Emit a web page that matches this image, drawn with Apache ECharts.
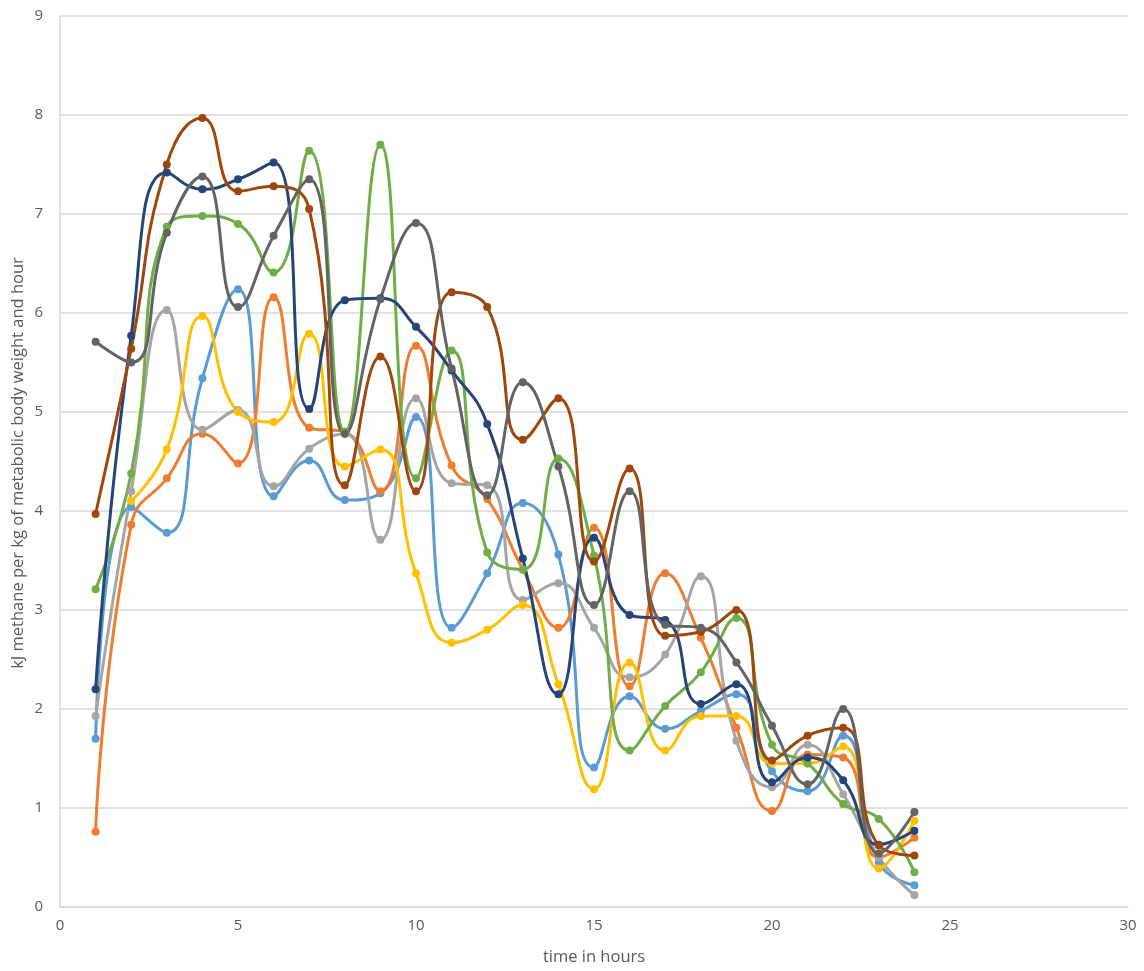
<!DOCTYPE html>
<html>
<head>
<meta charset="utf-8">
<title>Methane emission over time</title>
<script src="https://cdn.jsdelivr.net/npm/echarts@6/dist/echarts.min.js"></script>
<style>
  html, body { margin: 0; padding: 0; background: #ffffff; }
  #chart { width: 1144px; height: 971px; }
</style>
</head>
<body>
<div id="chart"></div>
<script>
// Hours of measurement
const hours = [1,2,3,4,5,6,7,8,9,10,11,12,13,14,15,16,17,18,19,20,21,22,23,24];

// kJ methane per kg metabolic body weight and hour, one array per animal
const lightBlue = [1.70,4.04,3.78,5.34,6.24,4.15,4.51,4.11,4.18,4.95,2.82,3.37,4.08,3.56,1.41,2.13,1.80,1.98,2.15,1.37,1.17,1.73,0.45,0.22];
const orange    = [0.76,3.86,4.33,4.78,4.48,6.16,4.84,4.80,4.20,5.67,4.46,4.12,3.41,2.82,3.83,2.23,3.37,2.72,1.81,0.97,1.54,1.51,0.50,0.70];
const gray      = [1.93,4.20,6.03,4.82,5.02,4.25,4.63,4.78,3.71,5.14,4.28,4.26,3.10,3.27,2.82,2.32,2.55,3.34,1.68,1.21,1.64,1.14,0.50,0.12];
const yellow    = [null,4.10,4.62,5.97,5.00,4.90,5.79,4.45,4.62,3.37,2.67,2.80,3.05,2.25,1.19,2.47,1.58,1.93,1.93,1.45,1.45,1.62,0.39,0.87];
const green     = [3.21,4.38,6.87,6.98,6.90,6.41,7.64,4.80,7.70,4.33,5.62,3.58,3.41,4.53,3.55,1.58,2.03,2.37,2.92,1.64,1.45,1.04,0.89,0.35];
const darkBlue  = [2.20,5.77,7.42,7.25,7.35,7.52,5.03,6.13,6.15,5.86,5.42,4.88,3.52,2.15,3.73,2.95,2.90,2.05,2.25,1.26,1.51,1.28,0.63,0.77];
const brown     = [3.97,5.64,7.50,7.97,7.23,7.28,7.05,4.26,5.56,4.20,6.21,6.06,4.72,5.14,3.49,4.43,2.74,2.78,3.00,1.48,1.73,1.81,0.62,0.52];
const darkGray  = [5.71,5.50,6.81,7.38,6.06,6.78,7.35,4.78,6.14,6.91,5.44,4.16,5.30,4.45,3.05,4.20,2.85,2.82,2.47,1.83,1.24,2.00,0.54,0.96];

// Axis ticks
const xTicks = { min: 0, max: 30, step: 5 };
const yTicks = { min: 0, max: 9, step: 1 };

const xTitle = 'time in hours';
const yTitle = 'kJ methane per kg of metabolic body weight and hour';

const seriesDefs = [
  { name: 'Animal 1', values: lightBlue, color: '#5B9BD5' },
  { name: 'Animal 2', values: orange,    color: '#ED7D31' },
  { name: 'Animal 3', values: gray,      color: '#A5A5A5' },
  { name: 'Animal 4', values: yellow,    color: '#FFC000' },
  { name: 'Animal 5', values: green,     color: '#70AD47' },
  { name: 'Animal 6', values: darkBlue,  color: '#264478' },
  { name: 'Animal 7', values: brown,     color: '#9E480E' },
  { name: 'Animal 8', values: darkGray,  color: '#636363' }
];

const FONT = 'Open Sans, Liberation Sans, sans-serif';
const GRID = { left: 60, right: 16, top: 16, bottom: 61 };
const H = 971;

const chart = echarts.init(document.getElementById('chart'), null, { renderer: 'canvas' });

const labelStyle = { color: '#595959', fontSize: 15, fontFamily: FONT };

chart.setOption({
  animation: false,
  backgroundColor: '#ffffff',
  grid: GRID,
  xAxis: {
    type: 'value',
    min: xTicks.min, max: xTicks.max, interval: xTicks.step,
    name: xTitle,
    nameLocation: 'middle',
    nameGap: 42,
    nameTextStyle: { color: '#595959', fontSize: 16.5, fontFamily: FONT },
    axisLine: { show: true, lineStyle: { color: '#d9d9d9', width: 1.5 } },
    axisTick: { show: false },
    splitLine: { show: false },
    axisLabel: Object.assign({ margin: 11 }, labelStyle)
  },
  yAxis: {
    type: 'value',
    min: yTicks.min, max: yTicks.max, interval: yTicks.step,
    axisLine: { show: true, lineStyle: { color: '#d9d9d9', width: 1.5 } },
    axisTick: { show: false },
    splitLine: { show: true, lineStyle: { color: '#d9d9d9', width: 1.5 } },
    axisLabel: Object.assign({ margin: 17 }, labelStyle)
  },
  // vertical axis title, centred on the plot height
  graphic: [{
    type: 'text',
    x: 18,
    y: GRID.top + (H - GRID.top - GRID.bottom) / 2,
    rotation: Math.PI / 2,
    style: {
      text: yTitle,
      fill: '#595959',
      font: '16.5px ' + FONT,
      align: 'center',
      verticalAlign: 'middle'
    }
  }],
  series: seriesDefs.map(s => ({
    name: s.name,
    type: 'line',
    smooth: 0.5,
    symbol: 'circle',
    symbolSize: 8,
    connectNulls: false,
    data: hours.map((h, i) => [h, s.values[i]]).filter(p => p[1] !== null),
    itemStyle: { color: s.color },
    lineStyle: { color: s.color, width: 3 }
  }))
});
</script>
</body>
</html>
